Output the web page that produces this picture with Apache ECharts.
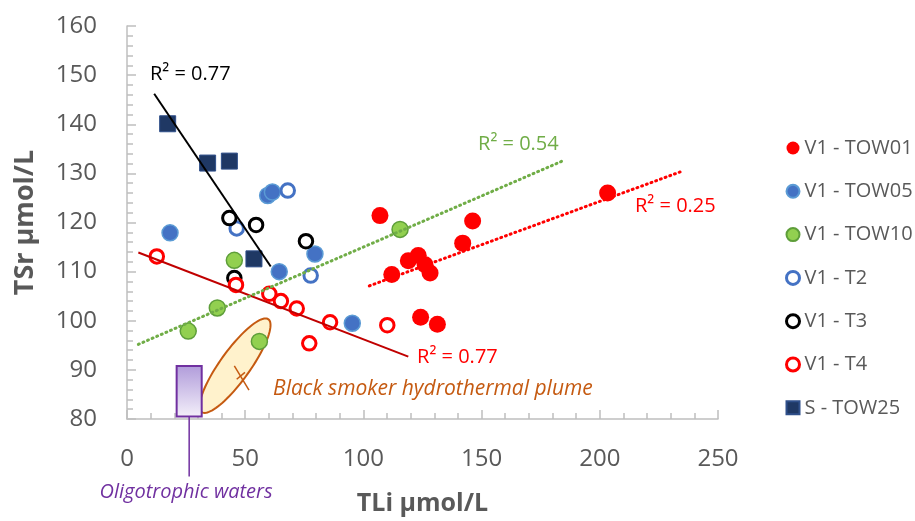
<!DOCTYPE html>
<html>
<head>
<meta charset="utf-8">
<script src="https://cdn.jsdelivr.net/npm/echarts@6/dist/echarts.min.js"></script>
<style>
html,body{margin:0;padding:0;background:#fff;}
#chart{width:915px;height:521px;}
</style>
</head>
<body>
<div id="chart"></div>
<script>
// ---------- data ----------
const seriesNames = ['V1 - TOW01', 'V1 - TOW05', 'V1 - TOW10', 'V1 - T2', 'V1 - T3', 'V1 - T4', 'S - TOW25'];
const tow01 = [[107.0,121.4],[112.0,109.4],[119.0,112.2],[123.2,113.3],[126.1,111.4],[128.2,109.7],[142.0,115.8],[146.2,120.3],[124.2,100.7],[131.3,99.3],[203.3,126.0]];
const tow05 = [[18.2,117.9],[59.5,125.5],[61.5,126.2],[79.5,113.6],[64.4,110.0],[95.3,99.5]];
const tow10 = [[45.4,112.3],[38.2,102.6],[25.9,97.9],[56.0,95.8],[115.5,118.6]];
const t2 = [[68.0,126.5],[46.4,118.8],[77.7,109.2]];
const t3 = [[43.3,120.9],[54.6,119.5],[75.7,116.2],[45.4,108.7]];
const t4 = [[12.6,113.1],[46.1,107.3],[60.2,105.5],[65.1,104.0],[71.8,102.5],[85.9,99.7],[77.1,95.4],[110.1,99.1]];
const stow25 = [[17.2,140.1],[34.1,132.1],[43.3,132.5],[53.7,112.6]];

// trend lines (end points)
const trendT3S = [[11.5,146.2],[60.8,111.05]];
const trendT4 = [[4.8,113.9],[119.0,92.7]];
const trendTOW10 = [[4.8,95.2],[184.6,132.6]];
const trendTOW01 = [[102.5,107.1],[234.6,130.4]];

// R² labels: [x, y] anchors and texts
const r2Texts = ['R² = 0.77', 'R² = 0.54', 'R² = 0.25', 'R² = 0.77'];
const r2Anchors = [[9.7,150.1],[148.5,136.0],[214.9,123.2],[122.7,92.5]];

// annotations
const plumeEllipseTips = [[31.6,81.4],[59.8,100.3]];
const plumeMarker = [[45.4,90.8],[51.6,85.9]];
const plumeMarkerTick = [[46.4,88.1],[49.9,89.5]];
const plumeText = 'Black smoker hydrothermal plume';
const plumeTextAnchor = [61.8,86.1];
const oligoBox = [[21.0,90.8],[31.6,80.5]];
const oligoStem = [[26.3,80.5],[26.3,68.3]];
const oligoText = 'Oligotrophic waters';
const oligoTextAnchor = [25.0,65.1];

const xAxisRange = [0, 250, 50];
const yAxisRange = [80, 160, 10];
const xName = 'TLi µmol/L';
const yName = 'TSr µmol/L';

// ---------- chart ----------
const FONT = '"Open Sans", "DejaVu Sans", sans-serif';
const AXIS = '#BFBFBF';
const chart = echarts.init(document.getElementById('chart'), null, {renderer: 'canvas'});

function scatter(name, data, opts) {
  return Object.assign({
    name: name, type: 'scatter', data: data, z: 3
  }, opts);
}
function trend(data, color, dotted) {
  return {
    type: 'line', data: data, symbol: 'none', silent: true, z: 4,
    lineStyle: dotted ? {color: color, width: 3, type: [1, 4], cap: 'round'} : {color: color, width: 2}
  };
}

const r2Colors = ['#000000', '#70AD47', '#FF0000', '#FF0000'];
const hollowLegend = {'V1 - T2': 1, 'V1 - T3': 1, 'V1 - T4': 1};

const option = {
  animation: false,
  backgroundColor: '#ffffff',
  textStyle: {fontFamily: FONT},
  grid: {left: 127, right: 197, top: 26, bottom: 99, containLabel: false},
  legend: {
    orient: 'vertical', left: 780, top: 133,
    data: seriesNames.map(function (n) {
      return hollowLegend[n] ? {name: n, itemStyle: {borderWidth: 3}} : {name: n};
    }),
    itemWidth: 13, itemHeight: 13, itemGap: 23.3,
    textStyle: {fontSize: 20, color: '#595959', fontFamily: FONT, lineHeight: 20},
    selectedMode: false
  },
  xAxis: {
    type: 'value', min: xAxisRange[0], max: xAxisRange[1], interval: xAxisRange[2],
    name: xName, nameLocation: 'middle', nameGap: 72,
    nameTextStyle: {fontSize: 25, fontWeight: 'bold', color: '#595959', fontFamily: FONT},
    axisLine: {show: true, lineStyle: {color: AXIS, width: 1.5}},
    axisTick: {show: true, inside: true, length: 9, lineStyle: {color: AXIS, width: 1.5}},
    minorTick: {show: true, splitNumber: 5, length: 6, lineStyle: {color: AXIS, width: 1.5}},
    splitLine: {show: false},
    axisLabel: {fontSize: 24, color: '#595959', margin: 28, fontFamily: FONT}
  },
  yAxis: {
    type: 'value', min: yAxisRange[0], max: yAxisRange[1], interval: yAxisRange[2],
    name: yName, nameLocation: 'middle', nameGap: 88,
    nameTextStyle: {fontSize: 27, fontWeight: 'bold', color: '#595959', fontFamily: FONT},
    axisLine: {show: true, lineStyle: {color: AXIS, width: 1.5}},
    axisTick: {show: true, inside: true, length: 9, lineStyle: {color: AXIS, width: 1.5}},
    minorTick: {show: true, splitNumber: 5, length: 6, lineStyle: {color: AXIS, width: 1.5}},
    splitLine: {show: false},
    axisLabel: {fontSize: 24, color: '#595959', margin: 30, fontFamily: FONT}
  },
  series: [
    // annotation shapes (below the markers)
    {
      type: 'custom', silent: true, clip: false, z: 1,
      data: [0],
      renderItem: function (params, api) {
        const a = api.coord(plumeEllipseTips[0]);
        const b = api.coord(plumeEllipseTips[1]);
        const cx = (a[0] + b[0]) / 2, cy = (a[1] + b[1]) / 2;
        const dx = b[0] - a[0], dy = b[1] - a[1];
        const L = Math.sqrt(dx * dx + dy * dy);
        const ux = dx / L, uy = dy / L;
        const R = L / 2, r = 15;
        const pts = [];
        for (let i = 0; i < 96; i++) {
          const t = i / 96 * Math.PI * 2;
          const p = R * Math.cos(t), q = r * Math.sin(t);
          pts.push([cx + p * ux - q * uy, cy + p * uy + q * ux]);
        }
        const m0 = api.coord(plumeMarker[0]), m1 = api.coord(plumeMarker[1]);
        const k0 = api.coord(plumeMarkerTick[0]), k1 = api.coord(plumeMarkerTick[1]);
        const b0 = api.coord(oligoBox[0]), b1 = api.coord(oligoBox[1]);
        const s0 = api.coord(oligoStem[0]), s1 = api.coord(oligoStem[1]);
        const pt = api.coord(plumeTextAnchor);
        const ot = api.coord(oligoTextAnchor);
        return {
          type: 'group',
          children: [
            {type: 'polygon', shape: {points: pts}, style: {fill: '#FFF2CC', stroke: '#C55A11', lineWidth: 2}},
            {type: 'line', shape: {x1: m0[0], y1: m0[1], x2: m1[0], y2: m1[1]}, style: {stroke: '#C55A11', lineWidth: 1.5}},
            {type: 'line', shape: {x1: k0[0], y1: k0[1], x2: k1[0], y2: k1[1]}, style: {stroke: '#C55A11', lineWidth: 1.5}},
            {type: 'rect', shape: {x: Math.min(b0[0], b1[0]), y: Math.min(b0[1], b1[1]), width: Math.abs(b1[0] - b0[0]), height: Math.abs(b1[1] - b0[1])},
              style: {fill: new echarts.graphic.LinearGradient(0, 0, 0, 1, [{offset: 0, color: '#B09BDA'}, {offset: 1, color: '#F4F0FA'}]), stroke: '#7030A0', lineWidth: 2}},
            {type: 'line', shape: {x1: s0[0], y1: s0[1], x2: s1[0], y2: s1[1]}, style: {stroke: '#7030A0', lineWidth: 1.5}},
            {type: 'text', style: {text: plumeText, x: pt[0], y: pt[1], fill: '#C55A11', fontSize: 21, fontStyle: 'italic', fontFamily: FONT, align: 'left', verticalAlign: 'middle'}},
            {type: 'text', style: {text: oligoText, x: ot[0], y: ot[1], fill: '#7030A0', fontSize: 20, fontStyle: 'italic', fontFamily: FONT, align: 'center', verticalAlign: 'middle'}}
          ]
        };
      }
    },
    scatter(seriesNames[0], tow01, {symbol: 'circle', symbolSize: 17, itemStyle: {color: '#FF0000', opacity: 1}}),
    scatter(seriesNames[1], tow05, {symbol: 'circle', symbolSize: 16, itemStyle: {color: '#4472C4', borderColor: '#5B9BD5', borderWidth: 1.5, opacity: 1}}),
    scatter(seriesNames[2], tow10, {symbol: 'circle', symbolSize: 16, itemStyle: {color: '#92D050', borderColor: '#5E9E3A', borderWidth: 1.5, opacity: 1}}),
    scatter(seriesNames[3], t2, {symbol: 'circle', symbolSize: 13.5, itemStyle: {color: '#ffffff', borderColor: '#4472C4', borderWidth: 3, opacity: 1}}),
    scatter(seriesNames[4], t3, {symbol: 'circle', symbolSize: 13.5, itemStyle: {color: '#ffffff', borderColor: '#000000', borderWidth: 3, opacity: 1}}),
    scatter(seriesNames[5], t4, {symbol: 'circle', symbolSize: 13.5, itemStyle: {color: '#ffffff', borderColor: '#FF0000', borderWidth: 3, opacity: 1}}),
    scatter(seriesNames[6], stow25, {symbol: 'rect', symbolSize: 16, itemStyle: {color: '#1F3864', borderColor: '#2F4F8A', borderWidth: 1, opacity: 1}}),
    trend(trendT3S, '#000000', false),
    trend(trendT4, '#C00000', false),
    trend(trendTOW10, '#70AD47', true),
    trend(trendTOW01, '#FF0000', true),
    // R² labels
    {
      type: 'custom', silent: true, clip: false, z: 5,
      data: r2Anchors.map(function (d, i) { return [d[0], d[1], i]; }),
      renderItem: function (params, api) {
        const p = api.coord([api.value(0), api.value(1)]);
        const i = api.value(2);
        return {type: 'text', style: {text: r2Texts[i], x: p[0], y: p[1], fill: r2Colors[i], fontSize: 20, fontFamily: FONT, align: 'left', verticalAlign: 'middle'}};
      }
    }
  ]
};
chart.setOption(option);
</script>
</body>
</html>
